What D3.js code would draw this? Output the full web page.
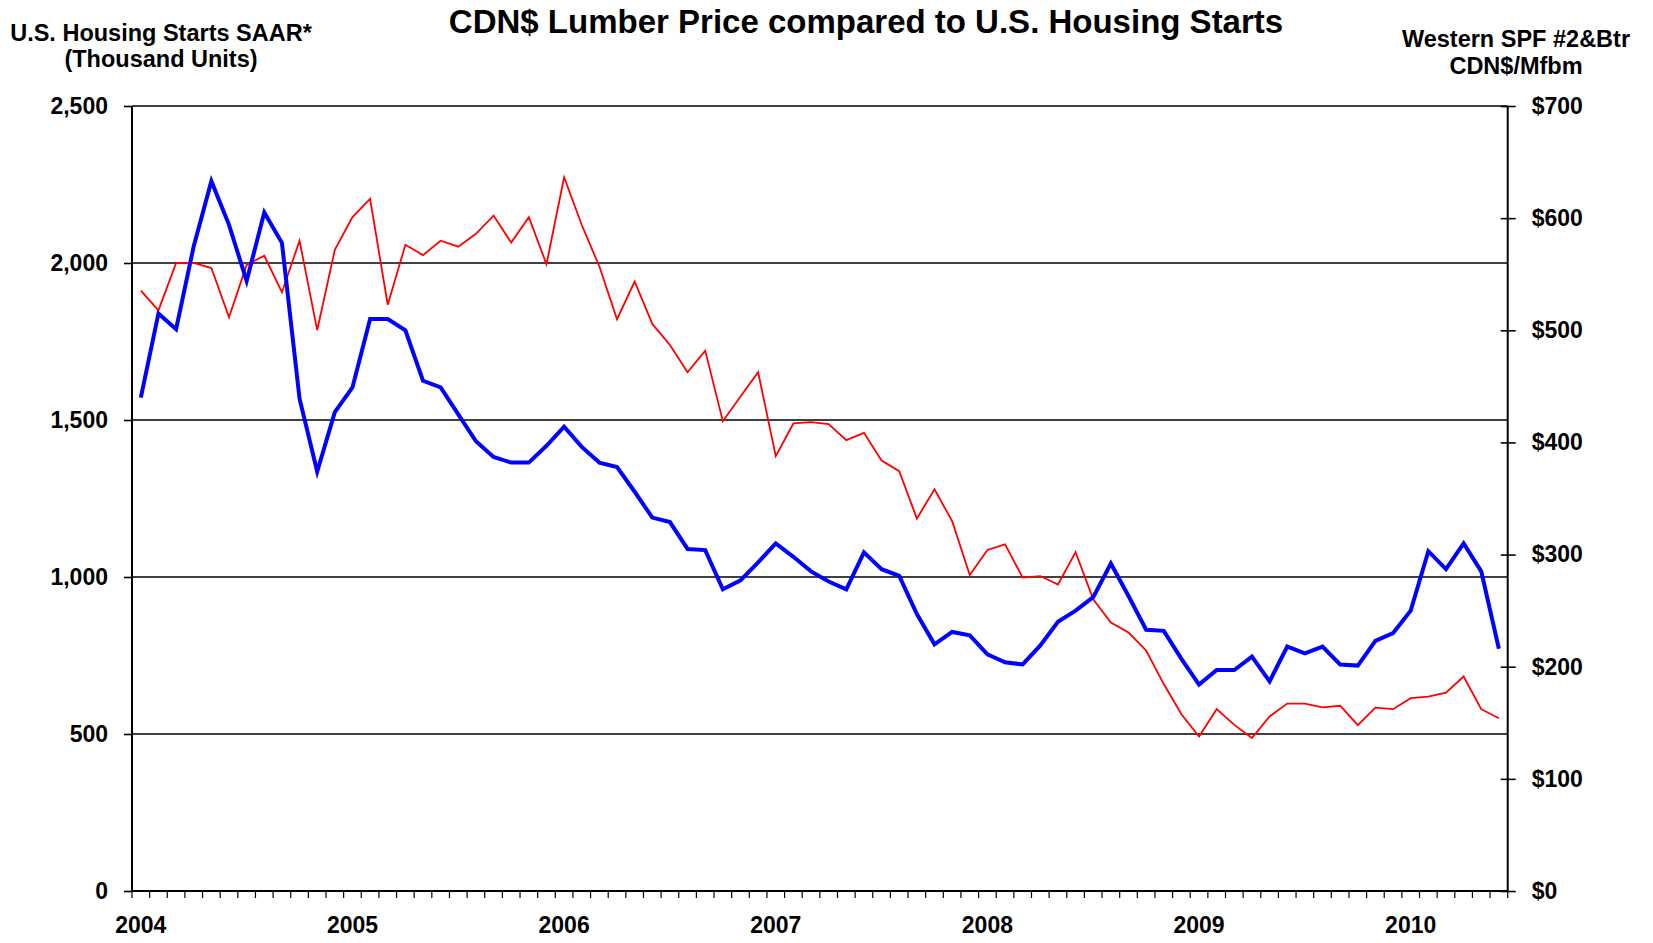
<!DOCTYPE html>
<html>
<head>
<meta charset="utf-8">
<script src="https://cdn.jsdelivr.net/npm/d3@7"></script>
<style>
  html, body { margin: 0; padding: 0; background: #fff; }
  svg { display: block; }
  text { font-family: "Liberation Sans", Arial, sans-serif; font-weight: bold; fill: #000; }
</style>
</head>
<body>
<svg id="chart" width="1653" height="943"></svg>
<script>
// ---- Data ----
const months = [
  "2004-01","2004-02","2004-03","2004-04","2004-05","2004-06","2004-07","2004-08","2004-09","2004-10","2004-11","2004-12",
  "2005-01","2005-02","2005-03","2005-04","2005-05","2005-06","2005-07","2005-08","2005-09","2005-10","2005-11","2005-12",
  "2006-01","2006-02","2006-03","2006-04","2006-05","2006-06","2006-07","2006-08","2006-09","2006-10","2006-11","2006-12",
  "2007-01","2007-02","2007-03","2007-04","2007-05","2007-06","2007-07","2007-08","2007-09","2007-10","2007-11","2007-12",
  "2008-01","2008-02","2008-03","2008-04","2008-05","2008-06","2008-07","2008-08","2008-09","2008-10","2008-11","2008-12",
  "2009-01","2009-02","2009-03","2009-04","2009-05","2009-06","2009-07","2009-08","2009-09","2009-10","2009-11","2009-12",
  "2010-01","2010-02","2010-03","2010-04","2010-05","2010-06"
];
// U.S. housing starts SAAR (thousand units) - left axis, red
const housingStarts = [
  1912,1849,2000,2000,1984,1827,1994,2023,1907,2071,1786,2042,
  2146,2204,1867,2058,2025,2071,2052,2093,2151,2065,2146,1996,
  2273,2121,1989,1821,1941,1806,1739,1652,1721,1496,1575,1652,
  1385,1489,1493,1487,1436,1459,1371,1337,1186,1279,1178,1006,
  1086,1104,998,1003,976,1079,929,855,823,766,659,563,
  492,579,529,487,556,597,597,585,590,528,584,579,
  614,619,632,683,579,550
];
// Western SPF #2&Btr lumber price (CDN$/Mfbm) - right axis, blue
const lumberPrice = [
  440,515,501,575,633,594,544,605,578,439,374,427,
  449,510,510,500,455,449,425,401,387,382,382,397,
  414,396,382,378,356,333,329,305,304,269,277,293,
  310,298,285,276,269,302,287,281,247,220,231,228,
  211,204,202,219,240,250,262,292,263,233,232,207,
  184,197,197,209,187,218,212,218,202,201,223,230,
  250,303,287,310,285,216
];
const leftTicks = [0, 500, 1000, 1500, 2000, 2500];
const rightTicks = [0, 100, 200, 300, 400, 500, 600, 700];
const yearTicks = ["2004-01","2005-01","2006-01","2007-01","2008-01","2009-01","2010-01"];
const yearLabels = ["2004","2005","2006","2007","2008","2009","2010"];

const title = "CDN$ Lumber Price compared to U.S. Housing Starts";
const leftTitle = ["U.S. Housing Starts SAAR*", "(Thousand Units)"];
const rightTitle = ["Western SPF #2&Btr", "CDN$/Mfbm"];

// ---- Layout ----
const L = 132, R = 1507.7, T = 106, B = 891;
const svg = d3.select("#chart");
const FONT = "Liberation Sans, Arial, sans-serif";

const x = d3.scaleBand().domain(months).range([L, R]).paddingInner(0).paddingOuter(0);
const yL = d3.scaleLinear().domain([0, 2500]).range([B, T]);
const yR = d3.scaleLinear().domain([0, 700]).range([B, T]);
const cx = m => x(m) + x.bandwidth() / 2;

// gridlines (left axis values)
svg.append("g").selectAll("line").data(leftTicks.filter(d => d > 0)).join("line")
  .attr("x1", L).attr("x2", R)
  .attr("y1", d => yL(d)).attr("y2", d => yL(d))
  .attr("stroke", "#000").attr("stroke-width", 1.6);

// left axis
const gL = svg.append("g").attr("transform", `translate(${L},0)`)
  .call(d3.axisLeft(yL).tickValues(leftTicks).tickSize(8).tickPadding(16).tickFormat(d3.format(",")));
gL.select(".domain").remove();
gL.selectAll(".tick line").attr("stroke", "#000").attr("stroke-width", 1.6);
gL.selectAll(".tick text").attr("font-size", 23).attr("font-family", FONT).attr("font-weight", "bold");

// right axis
const gR = svg.append("g").attr("transform", `translate(${R},0)`)
  .call(d3.axisRight(yR).tickValues(rightTicks).tickSize(8).tickPadding(16).tickFormat(d => "$" + d));
gR.select(".domain").remove();
gR.selectAll(".tick line").attr("x1", -7).attr("x2", 8).attr("stroke", "#000").attr("stroke-width", 1.6);
gR.selectAll(".tick text").attr("font-size", 23).attr("font-family", FONT).attr("font-weight", "bold");

// bottom month boundary ticks
const boundaries = months.map(m => x(m)).concat([x(months[months.length - 1]) + x.bandwidth()]);
svg.append("g").selectAll("line").data(boundaries).join("line")
  .attr("x1", d => d).attr("x2", d => d)
  .attr("y1", B).attr("y2", B + 7)
  .attr("stroke", "#000").attr("stroke-width", 1.2);

// year labels
const gX = svg.append("g").attr("transform", `translate(0,${B})`)
  .call(d3.axisBottom(x).tickValues(yearTicks).tickSize(0).tickPadding(26)
    .tickFormat(m => yearLabels[yearTicks.indexOf(m)]));
gX.select(".domain").remove();
gX.selectAll(".tick text").attr("font-size", 23).attr("font-family", FONT).attr("font-weight", "bold");

// axis frame lines
svg.append("line").attr("x1", L).attr("x2", L).attr("y1", T).attr("y2", B).attr("stroke", "#000").attr("stroke-width", 2);
svg.append("line").attr("x1", R).attr("x2", R).attr("y1", T).attr("y2", B).attr("stroke", "#000").attr("stroke-width", 2);
svg.append("line").attr("x1", L).attr("x2", R).attr("y1", B).attr("y2", B).attr("stroke", "#000").attr("stroke-width", 2);

// series lines
const lineStarts = d3.line().x((d, i) => cx(months[i])).y(d => yL(d));
const linePrice = d3.line().x((d, i) => cx(months[i])).y(d => yR(d));

svg.append("path").datum(housingStarts).attr("d", lineStarts)
  .attr("fill", "none").attr("stroke", "#ff0000").attr("stroke-width", 1.8).attr("stroke-linejoin", "miter");
svg.append("path").datum(lumberPrice).attr("d", linePrice)
  .attr("fill", "none").attr("stroke", "#0000ff").attr("stroke-width", 4).attr("stroke-linejoin", "miter");

// titles
svg.append("text").attr("x", 866).attr("y", 21).attr("text-anchor", "middle")
  .attr("dominant-baseline", "central").attr("font-size", 33).text(title);

svg.append("g").selectAll("text").data(leftTitle).join("text")
  .attr("x", 161).attr("y", (d, i) => 33 + i * 26).attr("text-anchor", "middle")
  .attr("dominant-baseline", "central").attr("font-size", 23.5).text(d => d);

svg.append("g").selectAll("text").data(rightTitle).join("text")
  .attr("x", 1516).attr("y", (d, i) => 39 + i * 27).attr("text-anchor", "middle")
  .attr("dominant-baseline", "central").attr("font-size", 23.5).text(d => d);
</script>
</body>
</html>
